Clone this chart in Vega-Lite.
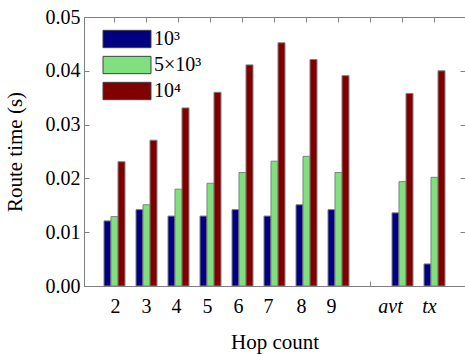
{
  "$schema": "https://vega.github.io/schema/vega-lite/v6.json",
  "width": 381,
  "height": 269,
  "autosize": {"type": "none"},
  "padding": {"left": 84, "top": 17, "right": 0, "bottom": 68},
  "background": "white",
  "config": {
    "view": {"stroke": "#808080", "strokeWidth": 1},
    "font": "Liberation Serif",
    "axis": {
      "domainColor": "#808080",
      "tickColor": "#808080",
      "labelColor": "black",
      "titleColor": "black",
      "labelFont": "Liberation Serif",
      "titleFont": "Liberation Serif",
      "labelFontSize": 20,
      "titleFontSize": 21,
      "titleFontWeight": "normal",
      "grid": false,
      "tickSize": -5
    }
  },
  "data": {
    "values": [
      {"hop": "2", "series": "10³", "time": 0.0121},
      {"hop": "2", "series": "5×10³", "time": 0.0129},
      {"hop": "2", "series": "10⁴", "time": 0.0231},
      {"hop": "3", "series": "10³", "time": 0.0142},
      {"hop": "3", "series": "5×10³", "time": 0.0151},
      {"hop": "3", "series": "10⁴", "time": 0.0271},
      {"hop": "4", "series": "10³", "time": 0.0130},
      {"hop": "4", "series": "5×10³", "time": 0.0180},
      {"hop": "4", "series": "10⁴", "time": 0.0331},
      {"hop": "5", "series": "10³", "time": 0.0130},
      {"hop": "5", "series": "5×10³", "time": 0.0191},
      {"hop": "5", "series": "10⁴", "time": 0.0360},
      {"hop": "6", "series": "10³", "time": 0.0142},
      {"hop": "6", "series": "5×10³", "time": 0.0211},
      {"hop": "6", "series": "10⁴", "time": 0.0411},
      {"hop": "7", "series": "10³", "time": 0.0130},
      {"hop": "7", "series": "5×10³", "time": 0.0232},
      {"hop": "7", "series": "10⁴", "time": 0.0452},
      {"hop": "8", "series": "10³", "time": 0.0151},
      {"hop": "8", "series": "5×10³", "time": 0.0241},
      {"hop": "8", "series": "10⁴", "time": 0.0421},
      {"hop": "9", "series": "10³", "time": 0.0142},
      {"hop": "9", "series": "5×10³", "time": 0.0211},
      {"hop": "9", "series": "10⁴", "time": 0.0391},
      {"hop": "avt", "series": "10³", "time": 0.0136},
      {"hop": "avt", "series": "5×10³", "time": 0.0194},
      {"hop": "avt", "series": "10⁴", "time": 0.0358},
      {"hop": "tx", "series": "10³", "time": 0.0041},
      {"hop": "tx", "series": "5×10³", "time": 0.0202},
      {"hop": "tx", "series": "10⁴", "time": 0.0400}
    ]
  },
  "layer": [
    {
      "mark": {"type": "bar", "stroke": "#808080", "strokeWidth": 1},
      "encoding": {
        "x": {
          "field": "hop",
          "type": "nominal",
          "scale": {"domain": ["2","3","4","5","6","7","8","9"," ","avt","tx"], "paddingInner": 0.344, "paddingOuter": 0.625},
          "axis": {
            "orient": "bottom",
            "title": "Hop count",
            "labelAngle": 0,
            "labelPadding": 15,
            "titlePadding": 15,
            "labelFontStyle": {"condition": {"test": "datum.value == 'avt' || datum.value == 'tx'", "value": "italic"}, "value": "normal"},
            "labelOffset": {
              "condition": [
                {"test": "datum.value == '2'", "value": 1},
                {"test": "datum.value == '4'", "value": -2},
                {"test": "datum.value == '5'", "value": -3},
                {"test": "datum.value == '6'", "value": -4},
                {"test": "datum.value == '7'", "value": -6},
                {"test": "datum.value == '8'", "value": -5},
                {"test": "datum.value == '9'", "value": -7},
                {"test": "datum.value == 'avt'", "value": -12},
                {"test": "datum.value == 'tx'", "value": -5}
              ],
              "value": 0
            }
          }
        },
        "y": {
          "field": "time",
          "type": "quantitative",
          "scale": {"domain": [0, 0.05], "nice": false},
          "axis": {
            "orient": "left",
            "title": "Route time (s)",
            "format": ".2f",
            "values": [0, 0.01, 0.02, 0.03, 0.04, 0.05],
            "labelPadding": 9,
            "titlePadding": 20
          }
        },
        "xOffset": {
          "field": "series",
          "type": "nominal",
          "sort": ["10³", "5×10³", "10⁴"],
          "scale": {"paddingInner": 0, "paddingOuter": 0}
        },
        "color": {
          "field": "series",
          "type": "nominal",
          "sort": ["10³", "5×10³", "10⁴"],
          "scale": {"domain": ["10³", "5×10³", "10⁴"], "range": ["#000080", "#80e080", "#800000"]},
          "legend": {
            "orient": "none",
            "legendX": 33,
            "legendY": 12,
            "padding": 0,
            "title": null,
            "symbolType": "M-2.77,-1H2.77V1H-2.77Z",
            "symbolSize": 300,
            "symbolStrokeColor": "#404040",
            "symbolStrokeWidth": 1,
            "symbolOpacity": 1,
            "labelFont": "Liberation Serif",
            "labelFontSize": 20,
            "labelColor": "black",
            "labelOffset": 17,
            "rowPadding": 4
          }
        }
      }
    },
    {
      "mark": {"type": "bar", "opacity": 0},
      "encoding": {
        "x": {
          "field": "hop",
          "type": "nominal",
          "scale": {"domain": ["2","3","4","5","6","7","8","9"," ","avt","tx"], "paddingInner": 0.344, "paddingOuter": 0.625},
          "axis": {"orient": "top", "title": null, "labels": false, "domain": false}
        },
        "y": {
          "field": "time",
          "type": "quantitative",
          "scale": {"domain": [0, 0.05], "nice": false},
          "axis": {"orient": "right", "title": null, "labels": false, "domain": false, "values": [0, 0.01, 0.02, 0.03, 0.04, 0.05]}
        }
      }
    }
  ],
  "resolve": {"axis": {"x": "independent", "y": "independent"}}
}
